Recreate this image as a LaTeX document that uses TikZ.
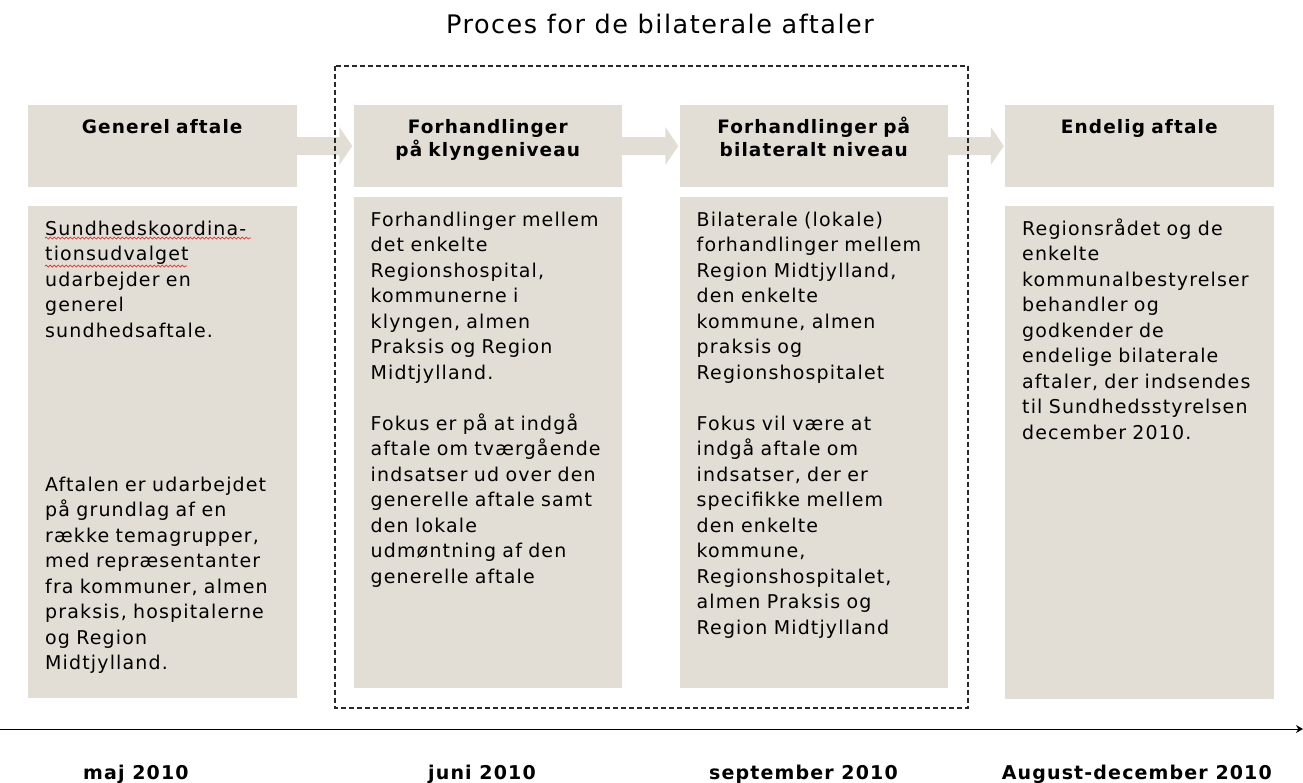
\documentclass[tikz,border=0pt]{standalone}
\usepackage{fontspec}
\setmainfont{DejaVu Sans}[LetterSpace=6]
\usetikzlibrary{arrows.meta, decorations.pathmorphing}
\definecolor{boxgray}{RGB}{226, 222, 213}
\definecolor{framegray}{RGB}{40, 40, 40}
\definecolor{spellred}{RGB}{230, 40, 40}

\begin{document}
\begin{tikzpicture}[x=1pt, y=-1pt,
    box/.style={fill=boxgray, inner sep=0pt, minimum width=268.5pt},
    head/.style={box, minimum height=82pt},
    body/.style={box, anchor=north west},
    headtxt/.style={anchor=base, inner sep=0pt, text width=260pt, align=center,
        font=\fontsize{18.5pt}{23pt}\selectfont\bfseries},
    bodytxt/.style={anchor=base west, inner sep=0pt, text width=250pt, align=left,
        font=\fontsize{19pt}{25.5pt}\selectfont},
    datetxt/.style={anchor=base, inner sep=0pt, font=\fontsize{19pt}{22pt}\selectfont\bfseries},
    squiggle/.style={spellred, line width=0.7pt, decorate,
        decoration={snake, segment length=4pt, amplitude=1pt}}]
        \useasboundingbox (0,0) rectangle (1303,782);

        % titel
        \node[anchor=base, inner sep=0pt, font=\fontsize{25.5pt}{30pt}\selectfont] (title) at (660,33) {Proces for de bilaterale aftaler};

        % overskrifter
        \node[head] (h1) at (162.25,146) {};
        \node[head] (h2) at (487.75,146) {};
        \node[head] (h3) at (813.75,146) {};
        \node[head] (h4) at (1139.25,146) {};
        \node[headtxt] (ht1) at ([yshift=-29pt]h1.north) {Generel aftale};
        \node[headtxt] (ht2) at ([yshift=-29pt]h2.north) {Forhandlinger\\på klyngeniveau};
        \node[headtxt] (ht3) at ([yshift=-29pt]h3.north) {Forhandlinger på\\bilateralt niveau};
        \node[headtxt] (ht4) at ([yshift=-29pt]h4.north) {Endelig aftale};

        % pile mellem overskrifterne
        \foreach \a/\b in {h1/h2, h2/h3, h3/h4}
            \fill[boxgray] ([yshift=9pt]\a.east) -- ([xshift=-14pt,yshift=9pt]\b.west)
                -- ([xshift=-14pt,yshift=19pt]\b.west) -- ([xshift=-1pt]\b.west)
                -- ([xshift=-14pt,yshift=-19pt]\b.west) -- ([xshift=-14pt,yshift=-9pt]\b.west)
                -- ([yshift=-9pt]\a.east) -- cycle;

        % tekstfelter
        \node[body, minimum height=492pt] (b1) at (28,206) {};
        \node[body, minimum height=491pt] (b2) at (353.5,197) {};
        \node[body, minimum height=491pt] (b3) at (679.5,197) {};
        \node[body, minimum height=493pt] (b4) at (1005,206) {};

        \node[bodytxt] (t1) at ([xshift=17pt,yshift=-29pt]b1.north west) {Sundhedskoordina-\\tionsudvalget\\udarbejder en\\generel\\sundhedsaftale.\\[128.5pt]
            Aftalen er udarbejdet\\på grundlag af en\\række temagrupper,\\med repræsentanter\\fra kommuner, almen\\praksis, hospitalerne\\og Region\\Midtjylland.};
        \node[bodytxt] (t2) at ([xshift=17pt,yshift=-29pt]b2.north west) {Forhandlinger mellem\\det enkelte\\Regionshospital,\\kommunerne i\\klyngen, almen\\Praksis og Region\\Midtjylland.\\[25.5pt]
            Fokus er på at indgå\\aftale om tværgående\\indsatser ud over den\\generelle aftale samt\\den lokale\\udmøntning af den\\generelle aftale};
        \node[bodytxt] (t3) at ([xshift=17pt,yshift=-29pt]b3.north west) {Bilaterale (lokale)\\forhandlinger mellem\\Region Midtjylland,\\den enkelte\\kommune, almen\\praksis og\\Regionshospitalet\\[25.5pt]
            Fokus vil være at\\indgå aftale om\\indsatser, der er\\specifikke mellem\\den enkelte\\kommune,\\Regionshospitalet,\\almen Praksis og\\Region Midtjylland};
        \node[bodytxt] (t4) at ([xshift=17pt,yshift=-29pt]b4.north west) {Regionsrådet og de\\enkelte\\kommunalbestyrelser\\behandler og\\godkender de\\endelige bilaterale\\aftaler, der indsendes\\til Sundhedsstyrelsen\\december 2010.};

        % stavekontrol
        \draw[squiggle] (45,238) -- (251,238);
        \draw[squiggle] (45,266) -- (187,266);

        % stiplet ramme
        \draw[framegray, line width=1.4pt, dash pattern=on 5pt off 3pt] (335,66) rectangle (968,708);

        % tidslinje
        \coordinate (tl0) at (0,729);
        \coordinate (tl1) at (1303,729);
        \draw[line width=1pt, -{Stealth[length=7pt, width=8pt]}] (tl0) -- (tl1);
        \node[datetxt, anchor=base west] (d1) at (83,779) {maj 2010};
        \node[datetxt, anchor=base west] (d2) at (428,779) {juni 2010};
        \node[datetxt, anchor=base east] (d3) at (898,779) {september 2010};
        \node[datetxt, anchor=base east] (d4) at (1272,779) {August-december 2010};
    \end{tikzpicture}
\end{document}
